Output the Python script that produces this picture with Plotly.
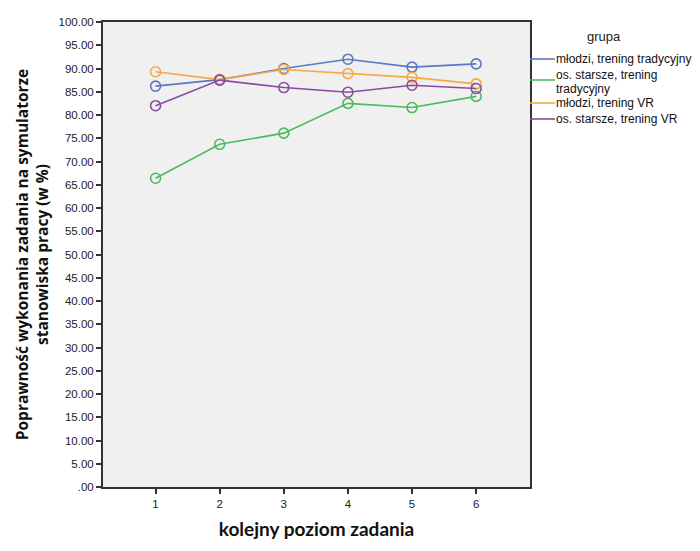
import plotly.graph_objects as go

levels = [1, 2, 3, 4, 5, 6]
series_names = [
    "młodzi, trening tradycyjny",
    "os. starsze, trening tradycyjny",
    "młodzi, trening VR",
    "os. starsze, trening VR",
]
legend_lines = [
    ["młodzi, trening tradycyjny"],
    ["os. starsze, trening", "tradycyjny"],
    ["młodzi, trening VR"],
    ["os. starsze, trening VR"],
]
mlodzi_trad = [86.2, 87.6, 90.0, 92.0, 90.3, 91.0]
starsze_trad = [66.4, 73.7, 76.1, 82.5, 81.6, 84.0]
mlodzi_vr = [89.3, 87.6, 89.8, 88.9, 88.1, 86.7]
starsze_vr = [82.0, 87.5, 85.9, 84.9, 86.4, 85.7]
colors = ["#5a78c4", "#4cbb5c", "#f5a944", "#8a4aa0"]

y_tickvals = [i * 5 for i in range(21)]
y_ticktext = [".00"] + [f"{v:.2f}" for v in y_tickvals[1:]]

W, H = 700, 551
L, R, T, B = 103, 170, 22, 64
PW, PH = W - L - R, H - T - B


def px(xp):
    return (xp - L) / PW


def py(yp):
    return (H - B - yp) / PH


fig = go.Figure()
all_series = [mlodzi_trad, starsze_trad, mlodzi_vr, starsze_vr]
for name, vals, c in zip(series_names, all_series, colors):
    fig.add_trace(go.Scatter(
        x=levels, y=vals, mode="lines+markers", name=name, showlegend=False,
        line=dict(color=c, width=1.6),
        marker=dict(symbol="circle-open", size=10, color=c, line=dict(width=1.6)),
    ))

# manual legend (SPSS style): line y, and y of each text line
legend_line_y = [59, 80, 103, 119]
legend_text_y = [[59], [74.5, 88.5], [103], [119]]
annotations = [dict(text="grupa", xref="paper", yref="paper", x=px(604), y=py(37),
                    xanchor="center", yanchor="middle", showarrow=False,
                    font=dict(family="Liberation Sans, Arial", size=13, color="#222"))]
shapes = []
for lines, c, yl, ys in zip(legend_lines, colors, legend_line_y, legend_text_y):
    shapes.append(dict(type="line", xref="paper", yref="paper",
                       x0=px(530), x1=px(555), y0=py(yl), y1=py(yl),
                       line=dict(color=c, width=1.6)))
    for txt, yt in zip(lines, ys):
        annotations.append(dict(text=txt, xref="paper", yref="paper",
                                x=px(555), y=py(yt), xanchor="left", yanchor="middle",
                                showarrow=False, borderpad=0,
                                font=dict(family="Liberation Sans, Arial", size=12, color="#111")))

fig.update_layout(
    width=W, height=H,
    margin=dict(l=L, r=R, t=T, b=B),
    paper_bgcolor="white",
    plot_bgcolor="#f0f0f0",
    showlegend=False,
    font=dict(family="Liberation Sans, Arial", size=11.5, color="#222"),
    annotations=annotations,
    shapes=shapes,
    xaxis=dict(
        range=[0.18, 6.84], tickvals=levels, ticktext=[str(v) for v in levels],
        showgrid=False, zeroline=False, automargin=False,
        showline=True, linecolor="#333", linewidth=2, mirror=True,
        ticks="outside", ticklen=5, tickcolor="#333", tickwidth=1.5,
        title=dict(text="kolejny poziom zadania",
                   font=dict(family="Lato, Open Sans", size=19, color="#111", weight="bold"),
                   standoff=14),
    ),
    yaxis=dict(
        range=[0, 100], tickvals=y_tickvals, ticktext=y_ticktext,
        showgrid=False, zeroline=False, automargin=False,
        showline=True, linecolor="#333", linewidth=2, mirror=True,
        ticks="outside", ticklen=5, tickcolor="#333", tickwidth=1.5,
        title=dict(text="Poprawność wykonania zadania na symulatorze<br>stanowiska pracy (w %)",
                   font=dict(family="Open Sans, Lato", size=15.5, color="#111", weight="bold"),
                   standoff=6),
    ),
)

fig.write_html("out.html", config={"displayModeBar": False},
               post_script="document.body.style.margin='0';")
